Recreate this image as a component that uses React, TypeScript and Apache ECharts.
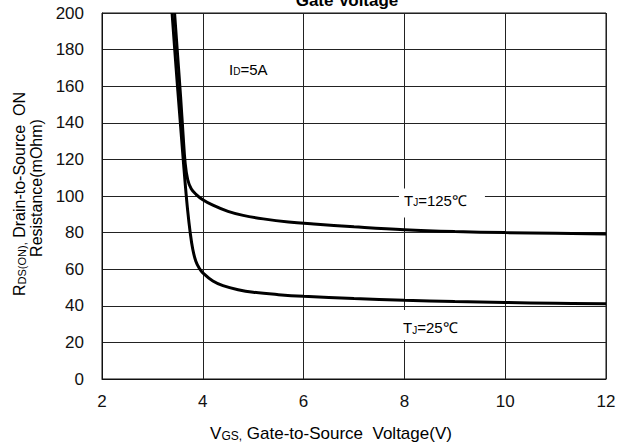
import React, { useEffect, useRef } from 'react';
import * as echarts from 'echarts';

// Tj = 25°C curve
const vgs25 = [3.39, 3.47, 3.54, 3.6, 3.65, 3.7, 3.75, 3.8, 3.86, 3.93, 4.0, 4.2, 4.4, 4.7, 5.0, 5.5, 6, 7, 8, 9, 10, 11, 12];
const rds25 = [200, 170, 145, 124, 107, 92, 80, 71, 64.5, 60.5, 58, 53.5, 51, 48.8, 47.4, 46.1, 45.2, 44, 43, 42.3, 41.8, 41.4, 41.1];

// Tj = 125°C curve
const vgs125 = [3.44, 3.5, 3.56, 3.61, 3.65, 3.7, 3.77, 3.87, 4.0, 4.2, 4.5, 4.8, 5.2, 5.7, 6.2, 7, 8, 9, 10, 11, 12];
const rds125 = [200, 177, 154, 133, 118, 109, 104, 100.8, 98, 95, 91.6, 89.4, 87.5, 85.8, 84.7, 83.2, 81.6, 80.6, 80, 79.6, 79.3];

const xMin = 2, xMax = 12, xStep = 2;
const yMin = 0, yMax = 200, yStep = 20;

const titleText = 'Gate Voltage';

const FONT = '"Liberation Sans", Arial, sans-serif';

export default function App() {
  const ref = useRef<HTMLDivElement>(null);
  useEffect(() => {
    if (!ref.current) return;
    const chart = echarts.init(ref.current, undefined, { renderer: 'svg' });
    const mainRich = (size: number) => ({
      a: { fontSize: size, fontFamily: FONT, color: '#111', lineHeight: size },
      b: { fontSize: Math.round(size * 0.68), fontFamily: FONT, color: '#111', lineHeight: Math.round(size * 0.3), verticalAlign: 'bottom' as const },
    });
    chart.setOption({
      animation: false,
      backgroundColor: '#fff',
      grid: { left: 102, right: 13, top: 13, bottom: 64, show: true, borderColor: '#111', borderWidth: 1, backgroundColor: 'transparent' },
      xAxis: {
        type: 'value', min: xMin, max: xMax, interval: xStep,
        axisLine: { show: true, lineStyle: { color: '#111', width: 1 } },
        axisTick: { show: false },
        axisLabel: { margin: 14, fontSize: 17, color: '#111', fontFamily: FONT },
        splitLine: { show: true, lineStyle: { color: '#222', width: 1 } },
      },
      yAxis: {
        type: 'value', min: yMin, max: yMax, interval: yStep,
        axisLine: { show: true, lineStyle: { color: '#111', width: 1 } },
        axisTick: { show: false },
        axisLabel: { margin: 18, fontSize: 17, color: '#111', fontFamily: FONT },
        splitLine: { show: true, lineStyle: { color: '#222', width: 1 } },
      },
      series: [
        {
          type: 'line', name: '25', data: vgs25.map((v, i) => [v, rds25[i]]),
          smooth: 0.4, showSymbol: false, symbol: 'none',
          lineStyle: { color: '#000', width: 3 }, clip: true,
        },
        {
          type: 'line', name: '125', data: vgs125.map((v, i) => [v, rds125[i]]),
          smooth: 0.4, showSymbol: false, symbol: 'none',
          lineStyle: { color: '#000', width: 3 }, clip: true,
        },
      ],
      graphic: [
        {
          type: 'text', x: 347, y: 0, z: 100,
          style: { text: titleText, font: `bold 17px ${FONT}`, fill: '#000', align: 'center', verticalAlign: 'middle' },
        },
        {
          type: 'text', x: 229, y: 69, z: 100,
          style: {
            text: '{a|I}{b|D}{a|=5A}', rich: mainRich(15), align: 'left', verticalAlign: 'middle',
          },
        },
        {
          type: 'text', x: 399, y: 203, z: 100,
          style: {
            text: '{a|T}{b|J}{a|=125℃}', rich: mainRich(15), align: 'left', verticalAlign: 'middle',
            backgroundColor: '#fff', padding: [4, 18, 10, 5],
          },
        },
        {
          type: 'text', x: 399, y: 325, z: 100,
          style: {
            text: '{a|T}{b|J}{a|=25℃}', rich: mainRich(15), align: 'left', verticalAlign: 'middle',
            backgroundColor: '#fff', padding: [10, 10, 5, 4],
          },
        },
        {
          type: 'text', x: 331, y: 433, z: 100,
          style: {
            text: '{a|V}{b|GS,}{a| Gate-to-Source  Voltage(V)}', rich: mainRich(17), align: 'center', verticalAlign: 'middle',
          },
        },
        {
          type: 'text', x: 19, y: 194, z: 100, rotation: Math.PI / 2,
          style: {
            text: '{a|R}{b|DS(ON),}{a| Drain-to-Source  ON}', rich: mainRich(16), align: 'center', verticalAlign: 'middle',
          },
        },
        {
          type: 'text', x: 36, y: 188, z: 100, rotation: Math.PI / 2,
          style: {
            text: '{a|Resistance(mOhm)}', rich: mainRich(16), align: 'center', verticalAlign: 'middle',
          },
        },
      ],
    });
    return () => chart.dispose();
  }, []);
  return <div ref={ref} style={{ position: 'fixed', left: 0, top: 0, width: 619, height: 443 }} />;
}
